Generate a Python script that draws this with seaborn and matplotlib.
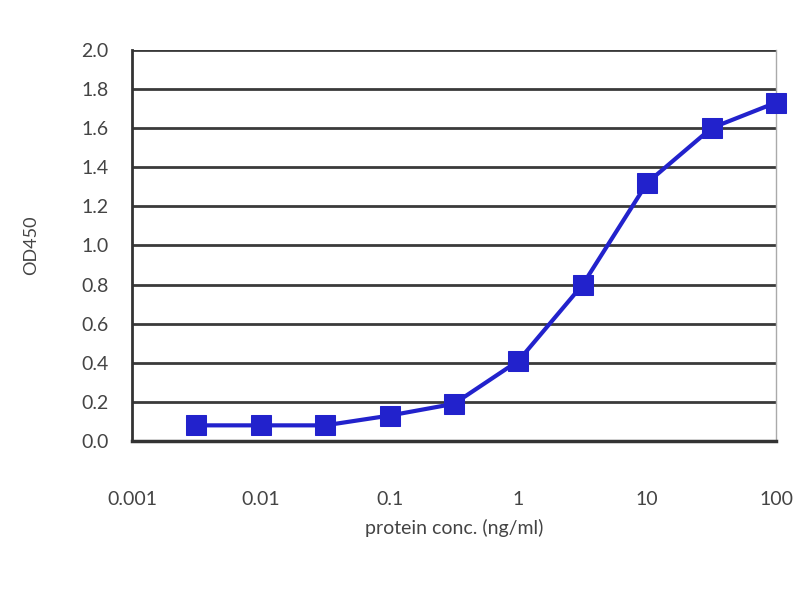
import matplotlib
matplotlib.use("Agg")
import matplotlib.pyplot as plt
import seaborn as sns
import pandas as pd
from matplotlib.ticker import FixedLocator, FixedFormatter

# data (half-log dilution series)
conc = [0.00316, 0.01, 0.0316, 0.1, 0.316, 1, 3.16, 10, 31.6, 100]
od450 = [0.08, 0.08, 0.08, 0.13, 0.19, 0.41, 0.80, 1.32, 1.60, 1.73]
x_ticks = [0.001, 0.01, 0.1, 1, 10, 100]
x_tick_labels = ["0.001", "0.01", "0.1", "1", "10", "100"]
y_ticks = [0.0, 0.2, 0.4, 0.6, 0.8, 1.0, 1.2, 1.4, 1.6, 1.8, 2.0]

df = pd.DataFrame({"conc": conc, "od": od450})

sns.set_style("white")
plt.rcParams["font.family"] = ["Lato", "DejaVu Sans"]

fig = plt.figure(figsize=(8, 6), dpi=100)
ax = fig.add_axes([0.165, 0.265, 0.805, 0.652])

# horizontal gridlines
for y in y_ticks[1:]:
    ax.axhline(y, color="#3a3a3a", lw=2.0, zorder=1)

sns.lineplot(data=df, x="conc", y="od", ax=ax, color="#2222cc", lw=3,
             marker="s", markersize=15, markeredgecolor="#2222cc", zorder=3,
             clip_on=False)

ax.set_xscale("log")
ax.set_xlim(0.001, 100)
ax.set_ylim(0, 2.0)
ax.xaxis.set_major_locator(FixedLocator(x_ticks))
ax.xaxis.set_major_formatter(FixedFormatter(x_tick_labels))
ax.xaxis.set_minor_locator(FixedLocator([]))
ax.set_yticks(y_ticks)
ax.set_yticklabels([f"{v:.1f}" for v in y_ticks])

ax.tick_params(axis="x", direction="in", length=7, width=1.5, color="#333333",
               labelsize=14, pad=36, labelcolor="#444444")
ax.tick_params(axis="y", direction="out", length=5, width=1.5, color="#333333",
               labelsize=14, pad=12, labelcolor="#444444")

ax.spines["top"].set_visible(False)
ax.spines["left"].set_color("#333333")
ax.spines["left"].set_linewidth(2)
ax.spines["bottom"].set_color("#333333")
ax.spines["bottom"].set_linewidth(2.5)
ax.spines["right"].set_color("#aaaaaa")
ax.spines["right"].set_linewidth(1)

ax.set_xlabel("protein conc. (ng/ml)", fontsize=14, color="#444444", labelpad=8)
ax.set_ylabel("OD450", fontsize=13, color="#444444", labelpad=30)

fig.savefig("out.png", dpi=100)
